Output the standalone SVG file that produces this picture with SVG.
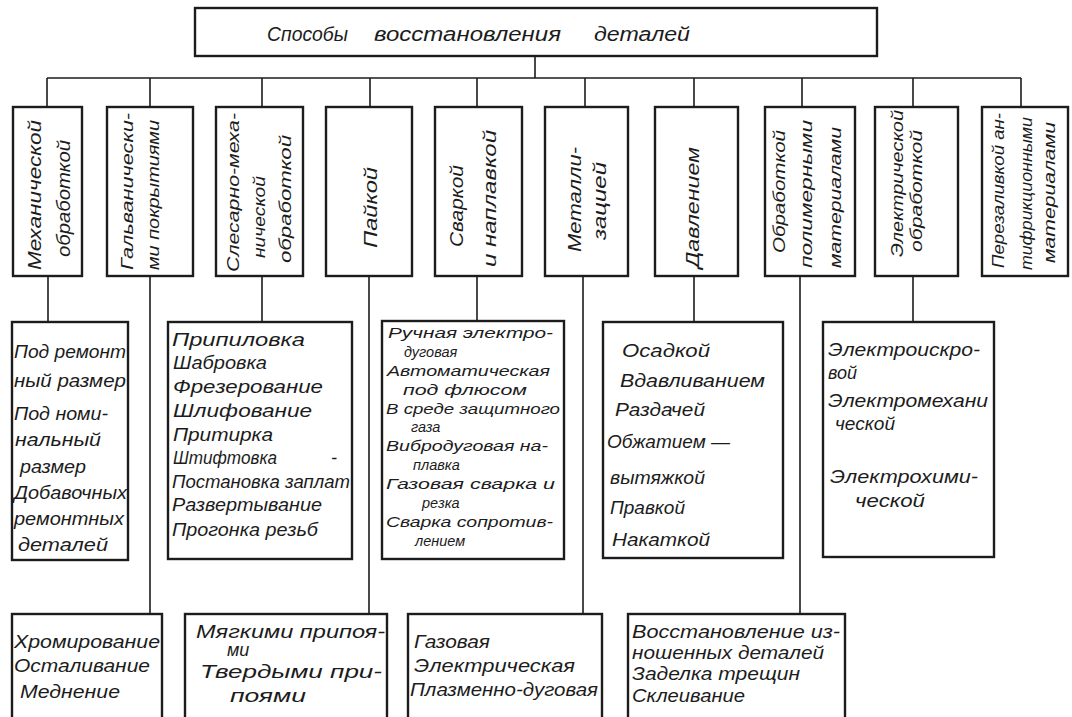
<svg xmlns="http://www.w3.org/2000/svg" width="1072" height="717" viewBox="0 0 1072 717">
<style>
.bx{fill:#fff;stroke:#1c1c1c;stroke-width:2.4}
.cn{fill:none;stroke:#1c1c1c;stroke-width:1.6}
text{font-family:"Liberation Sans","DejaVu Sans",sans-serif;font-style:italic;fill:#1c1c1c}
.t{font-size:18px}
.v{font-size:18px}
.v3{font-size:16px}
.s{font-size:14.5px}
.h{font-size:20px}
</style>
<rect width="1072" height="717" fill="#fff"/>
<g id="connectors">
<path class="cn" d="M535 56V78M47 78H1021M47 78V107M150 78V107M262 78V107M370 78V107M477 78V107M585 78V107M694 78V107M802 78V107M913 78V107M1021 78V107"/>
<path class="cn" d="M48 276V322M150 276V614M262 276V322M369 276V614M477 276V321M583 276V614M694 276V322M800 276V614M913 276V322"/>
</g>
<g id="root">
<rect class="bx" x="195" y="8" width="682" height="48"/>
<text class="h" y="41"><tspan x="267" textLength="81" lengthAdjust="spacingAndGlyphs">Способы</tspan><tspan x="374" textLength="187" lengthAdjust="spacingAndGlyphs">восстановления</tspan><tspan x="594" textLength="96" lengthAdjust="spacingAndGlyphs">деталей</tspan></text>
</g>
<g id="n1">
<rect class="bx" x="13" y="107" width="69" height="169"/>
<text class="v" transform="translate(41 270) rotate(-90)" textLength="150" lengthAdjust="spacingAndGlyphs">Механической</text>
<text class="v" transform="translate(70 257) rotate(-90)" textLength="117" lengthAdjust="spacingAndGlyphs">обработкой</text>
</g>
<g id="n2">
<rect class="bx" x="107" y="107" width="86" height="169"/>
<text class="v3" transform="translate(133 270) rotate(-90)" textLength="157" lengthAdjust="spacingAndGlyphs">Гальванически-</text>
<text class="v3" transform="translate(159 270) rotate(-90)" textLength="150" lengthAdjust="spacingAndGlyphs">ми покрытиями</text>
</g>
<g id="n3">
<rect class="bx" x="216" y="107" width="87" height="169"/>
<text class="v3" transform="translate(239 272) rotate(-90)" textLength="159" lengthAdjust="spacingAndGlyphs">Слесарно-меха-</text>
<text class="v3" transform="translate(265 258) rotate(-90)" textLength="82" lengthAdjust="spacingAndGlyphs">нической</text>
<text class="v3" transform="translate(291 263) rotate(-90)" textLength="128" lengthAdjust="spacingAndGlyphs">обработкой</text>
</g>
<g id="n4">
<rect class="bx" x="326" y="107" width="86" height="169"/>
<text class="v" transform="translate(377 248) rotate(-90)" textLength="81" lengthAdjust="spacingAndGlyphs">Пайкой</text>
</g>
<g id="n5">
<rect class="bx" x="435" y="107" width="87" height="169"/>
<text class="v" transform="translate(463 247) rotate(-90)" textLength="82" lengthAdjust="spacingAndGlyphs">Сваркой</text>
<text class="v" transform="translate(496 267) rotate(-90)" textLength="137" lengthAdjust="spacingAndGlyphs">и наплавкой</text>
</g>
<g id="n6">
<rect class="bx" x="545" y="107" width="83" height="169"/>
<text class="v" transform="translate(581 252) rotate(-90)" textLength="105" lengthAdjust="spacingAndGlyphs">Металли-</text>
<text class="v" transform="translate(606 240) rotate(-90)" textLength="78" lengthAdjust="spacingAndGlyphs">зацией</text>
</g>
<g id="n7">
<rect class="bx" x="655" y="107" width="83" height="169"/>
<text class="v" transform="translate(699 268) rotate(-90)" textLength="121" lengthAdjust="spacingAndGlyphs">Давлением</text>
</g>
<g id="n8">
<rect class="bx" x="765" y="107" width="90" height="169"/>
<text class="v3" transform="translate(785 253) rotate(-90)" textLength="123" lengthAdjust="spacingAndGlyphs">Обработкой</text>
<text class="v3" transform="translate(812 268) rotate(-90)" textLength="148" lengthAdjust="spacingAndGlyphs">полимерными</text>
<text class="v3" transform="translate(841 268) rotate(-90)" textLength="141" lengthAdjust="spacingAndGlyphs">материалами</text>
</g>
<g id="n9">
<rect class="bx" x="875" y="107" width="83" height="169"/>
<text class="v3" transform="translate(903 257) rotate(-90)" textLength="147" lengthAdjust="spacingAndGlyphs">Электрической</text>
<text class="v3" transform="translate(922 252) rotate(-90)" textLength="122" lengthAdjust="spacingAndGlyphs">обработкой</text>
</g>
<g id="n10">
<rect class="bx" x="982" y="107" width="86" height="169"/>
<text class="v3" transform="translate(1004 268) rotate(-90)" textLength="155" lengthAdjust="spacingAndGlyphs">Перезаливкой ан-</text>
<text class="v3" transform="translate(1032 270) rotate(-90)" textLength="153" lengthAdjust="spacingAndGlyphs">тифрикционными</text>
<text class="v3" transform="translate(1055 263) rotate(-90)" textLength="141" lengthAdjust="spacingAndGlyphs">материалами</text>
</g>
<g id="a1">
<rect class="bx" x="12" y="322" width="116" height="238"/>
<text class="t" x="14" y="358" textLength="112" lengthAdjust="spacingAndGlyphs">Под ремонт</text>
<text class="t" x="14" y="387" textLength="112" lengthAdjust="spacingAndGlyphs">ный размер</text>
<text class="t" x="14" y="420" textLength="94" lengthAdjust="spacingAndGlyphs">Под номи-</text>
<text class="t" x="15" y="446" textLength="86" lengthAdjust="spacingAndGlyphs">нальный</text>
<text class="t" x="20" y="473" textLength="66" lengthAdjust="spacingAndGlyphs">размер</text>
<text class="t" x="14" y="499" textLength="113" lengthAdjust="spacingAndGlyphs">Добавочных</text>
<text class="t" x="14" y="525" textLength="110" lengthAdjust="spacingAndGlyphs">ремонтных</text>
<text class="t" x="18" y="551" textLength="90" lengthAdjust="spacingAndGlyphs">деталей</text>
</g>
<g id="a3">
<rect class="bx" x="168" y="322" width="184" height="237"/>
<text class="t" x="172" y="346" textLength="133" lengthAdjust="spacingAndGlyphs">Припиловка</text>
<text class="t" x="173" y="369" textLength="94" lengthAdjust="spacingAndGlyphs">Шабровка</text>
<text class="t" x="173" y="393" textLength="150" lengthAdjust="spacingAndGlyphs">Фрезерование</text>
<text class="t" x="173" y="417" textLength="139" lengthAdjust="spacingAndGlyphs">Шлифование</text>
<text class="t" x="173" y="441" textLength="100" lengthAdjust="spacingAndGlyphs">Притирка</text>
<text class="t" x="173" y="464"><tspan textLength="104" lengthAdjust="spacingAndGlyphs">Штифтовка</tspan><tspan x="331">-</tspan></text>
<text class="t" x="172" y="488" textLength="178" lengthAdjust="spacingAndGlyphs">Постановка заплат</text>
<text class="t" x="172" y="511" textLength="150" lengthAdjust="spacingAndGlyphs">Развертывание</text>
<text class="t" x="172" y="536" textLength="146" lengthAdjust="spacingAndGlyphs">Прогонка резьб</text>
</g>
<g id="a5">
<rect class="bx" x="382" y="321" width="182" height="238"/>
<text class="s" x="388" y="338" textLength="165" lengthAdjust="spacingAndGlyphs">Ручная электро-</text>
<text class="s" x="404" y="357">дуговая</text>
<text class="s" x="387" y="376" textLength="163" lengthAdjust="spacingAndGlyphs">Автоматическая</text>
<text class="s" x="403" y="395" textLength="124" lengthAdjust="spacingAndGlyphs">под флюсом</text>
<text class="s" x="386" y="414" textLength="174" lengthAdjust="spacingAndGlyphs">В среде защитного</text>
<text class="s" x="411" y="432">газа</text>
<text class="s" x="386" y="451" textLength="162" lengthAdjust="spacingAndGlyphs">Вибродуговая на-</text>
<text class="s" x="413" y="470">плавка</text>
<text class="s" x="386" y="489" textLength="169" lengthAdjust="spacingAndGlyphs">Газовая сварка и</text>
<text class="s" x="422" y="508">резка</text>
<text class="s" x="386" y="527" textLength="167" lengthAdjust="spacingAndGlyphs">Сварка сопротив-</text>
<text class="s" x="415" y="546">лением</text>
</g>
<g id="a7">
<rect class="bx" x="603" y="322" width="180" height="236"/>
<text class="t" x="622" y="357" textLength="88" lengthAdjust="spacingAndGlyphs">Осадкой</text>
<text class="t" x="620" y="387" textLength="145" lengthAdjust="spacingAndGlyphs">Вдавливанием</text>
<text class="t" x="615" y="416" textLength="90" lengthAdjust="spacingAndGlyphs">Раздачей</text>
<text class="t" x="607" y="448" textLength="123" lengthAdjust="spacingAndGlyphs">Обжатием —</text>
<text class="t" x="610" y="484" textLength="95" lengthAdjust="spacingAndGlyphs">вытяжкой</text>
<text class="t" x="610" y="514" textLength="75" lengthAdjust="spacingAndGlyphs">Правкой</text>
<text class="t" x="612" y="546" textLength="98" lengthAdjust="spacingAndGlyphs">Накаткой</text>
</g>
<g id="a9">
<rect class="bx" x="823" y="322" width="171" height="235"/>
<text class="t" x="828" y="356" textLength="152" lengthAdjust="spacingAndGlyphs">Электроискро-</text>
<text class="t" x="828" y="379">вой</text>
<text class="t" x="828" y="407" textLength="160" lengthAdjust="spacingAndGlyphs">Электромехани</text>
<text class="t" x="835" y="430" textLength="60" lengthAdjust="spacingAndGlyphs">ческой</text>
<text class="t" x="830" y="483" textLength="148" lengthAdjust="spacingAndGlyphs">Электрохими-</text>
<text class="t" x="855" y="507" textLength="70" lengthAdjust="spacingAndGlyphs">ческой</text>
</g>
<g id="b2">
<rect class="bx" x="12" y="614" width="150" height="110"/>
<text class="t" x="14" y="648" textLength="146" lengthAdjust="spacingAndGlyphs">Хромирование</text>
<text class="t" x="14" y="672" textLength="136" lengthAdjust="spacingAndGlyphs">Осталивание</text>
<text class="t" x="20" y="698" textLength="100" lengthAdjust="spacingAndGlyphs">Меднение</text>
</g>
<g id="b4">
<rect class="bx" x="185" y="614" width="202" height="110"/>
<text class="t" x="196" y="638" textLength="189" lengthAdjust="spacingAndGlyphs">Мягкими припоя-</text>
<text class="t" x="227" y="656">ми</text>
<text class="t" x="200" y="678" textLength="182" lengthAdjust="spacingAndGlyphs">Твердыми при-</text>
<text class="t" x="230" y="702" textLength="76" lengthAdjust="spacingAndGlyphs">поями</text>
</g>
<g id="b6">
<rect class="bx" x="408" y="614" width="194" height="110"/>
<text class="t" x="414" y="648" textLength="76" lengthAdjust="spacingAndGlyphs">Газовая</text>
<text class="t" x="414" y="672" textLength="161" lengthAdjust="spacingAndGlyphs">Электрическая</text>
<text class="t" x="410" y="696" textLength="188" lengthAdjust="spacingAndGlyphs">Плазменно-дуговая</text>
</g>
<g id="b8">
<rect class="bx" x="628" y="614" width="217" height="110"/>
<text class="t" x="632" y="638" textLength="208" lengthAdjust="spacingAndGlyphs">Восстановление из-</text>
<text class="t" x="632" y="659" textLength="192" lengthAdjust="spacingAndGlyphs">ношенных деталей</text>
<text class="t" x="632" y="680" textLength="168" lengthAdjust="spacingAndGlyphs">Заделка трещин</text>
<text class="t" x="632" y="702" textLength="113" lengthAdjust="spacingAndGlyphs">Склеивание</text>
</g>
</svg>
